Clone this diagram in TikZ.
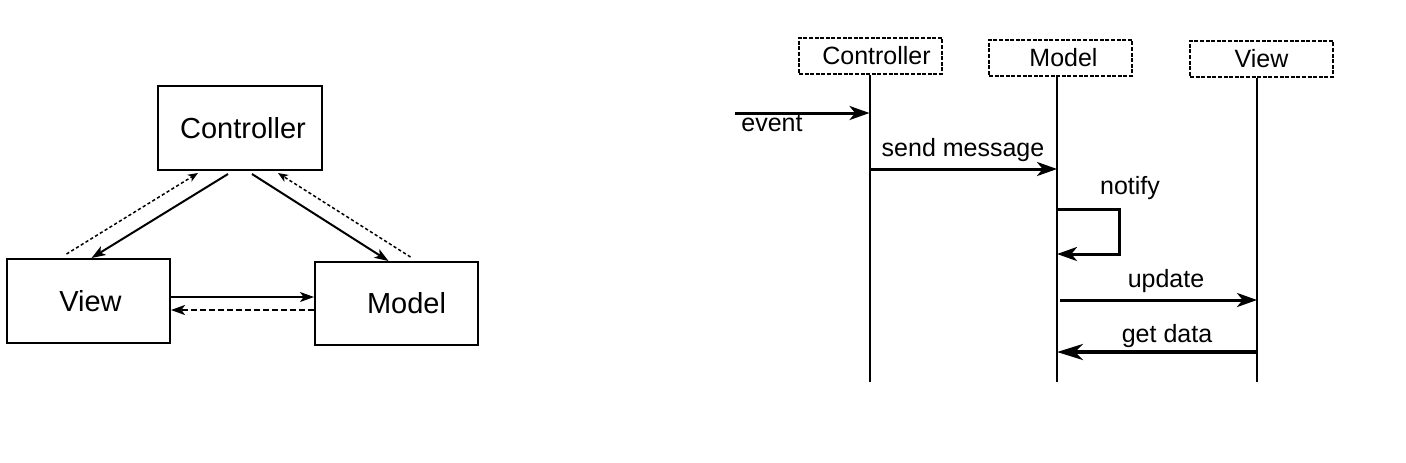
\documentclass[tikz,border=0pt]{standalone}
\usepackage{fontspec}
\setmainfont{Liberation Sans}
\usetikzlibrary{arrows.meta, calc}

\begin{document}
\begin{tikzpicture}[
    x=0.5pt, y=-0.5pt,
    mvcbox/.style={draw, line width=1pt, minimum width=82pt, minimum height=42pt, inner sep=0pt, font=\fontsize{14.5}{17}\selectfont},
    objbox/.style={draw, line width=0.7pt, dash pattern=on 2pt off 0.8pt, minimum width=71.5pt, minimum height=18pt, inner sep=0pt, font=\fontsize{12.5}{15}\selectfont},
    lifeline/.style={line width=1pt},
    lbl/.style={font=\fontsize{12.5}{15}\selectfont, inner sep=0pt, anchor=base},
    call/.style={-{Stealth[length=7pt, width=5pt, inset=1.8pt]}, line width=1pt},
    ret/.style={-{Stealth[length=5pt, width=4pt, inset=1.4pt]}, line width=0.75pt, dash pattern=on 1.6pt off 1.2pt},
    msg/.style={-{Stealth[length=10pt, width=7pt, inset=2.8pt]}, line width=1.5pt}
]

% page size
\useasboundingbox (0,0) rectangle (1406,462);

% Left: MVC triangle
\node[mvcbox] (controller) at (240,128) {\hspace*{3pt}Controller};
\node[mvcbox, minimum width=81.5pt] (view) at (88.5,301) {\hspace*{2pt}View};
\node[mvcbox, minimum width=81.5pt, minimum height=41.5pt] (model) at (396.5,303.5) {\hspace*{10pt}Model};

\draw[call] ($(controller.south)+(-12,3)$) -- ($(view.north)+(3,0)$);
\draw[ret] ($(view.north)+(-22,-4)$) -- ($(controller.south)+(-42,2)$);
\draw[call] ($(controller.south)+(12,3)$) -- ($(model.north)+(-8,0)$);
\draw[ret] ($(model.north)+(14,-4)$) -- ($(controller.south)+(38,2)$);
\draw[call, line width=0.65pt] ($(view.east)+(0,-4)$) -- ($(model.west)+(0,-6.5)$);
\draw[call, dash pattern=on 3pt off 1.5pt] ($(model.west)+(0,6.5)$) -- ($(view.east)+(0,9)$);

% Right: sequence diagram
\node[objbox] (ctrlobj) at (870.5,56) {\hspace*{6pt}Controller};
\node[objbox] (modelobj) at (1060.5,58) {\hspace*{3pt}Model};
\node[objbox] (viewobj) at (1261.5,59) {View};

\coordinate (ctrlend) at (869.5,382);
\coordinate (modelend) at (1057,382);
\coordinate (viewend) at (1257,382);
\coordinate (evstart) at (735,113);

\draw[lifeline] (ctrlobj.south -| ctrlend) -- (ctrlend);
\draw[lifeline] (modelobj.south -| modelend) -- (modelend);
\draw[lifeline] (viewobj.south -| viewend) -- (viewend);

% messages
\draw[msg] (evstart) -- (ctrlend |- evstart);
\node[lbl, anchor=base west] (evlbl) at (741,131) {event};

\draw[msg] (ctrlend |- 0,169) -- (modelend |- 0,169);
\node[lbl] (sendlbl) at (963,156) {send message};

\draw[msg] (modelend |- 0,209) -| (1119,254) -- (modelend |- 0,254);
\node[lbl] (notifylbl) at (1130,194) {notify};

\draw[msg] ($(modelend |- 0,300)+(3,0)$) -- (viewend |- 0,300);
\node[lbl] (updatelbl) at (1166,287) {update};

\draw[msg, line width=2pt, -{Stealth[length=13pt, width=8pt, inset=4pt]}] (viewend |- 0,352) -- (modelend |- 0,352);
\node[lbl] (getlbl) at (1167,342) {get data};

\end{tikzpicture}
\end{document}
